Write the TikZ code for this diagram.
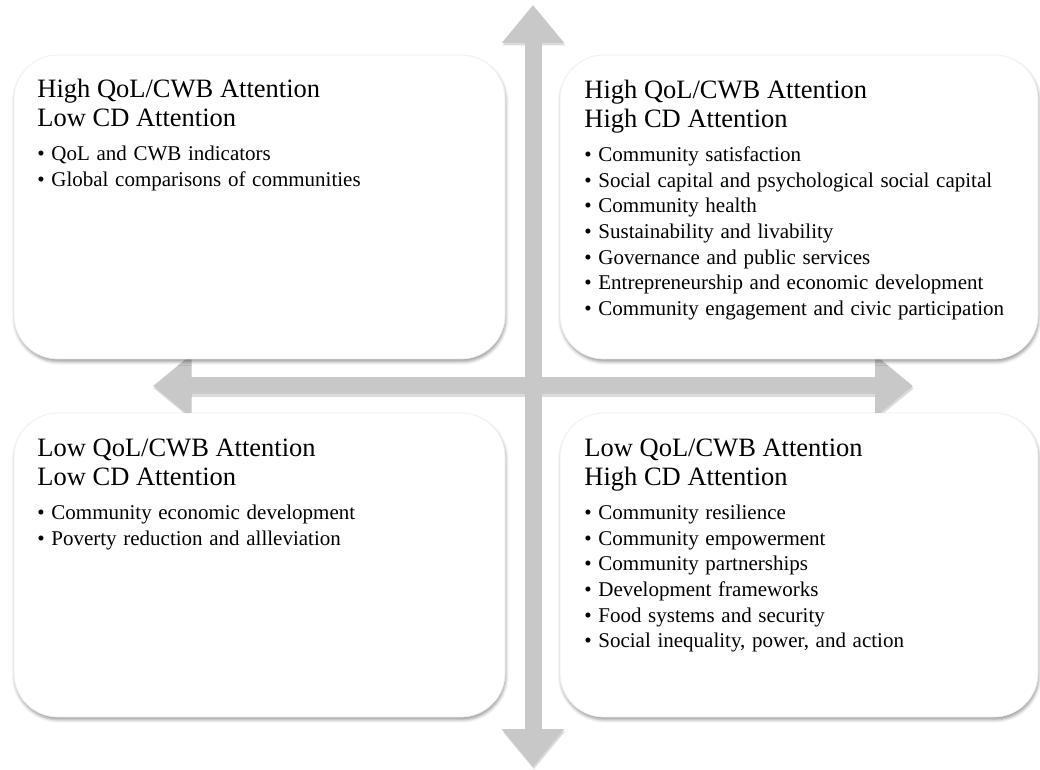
\documentclass[tikz,border=0pt]{standalone}
\usepackage{fontspec}
\setmainfont{Liberation Serif}
\usetikzlibrary{arrows.meta,positioning,shadows,shadows.blur}

\definecolor{axisgray}{RGB}{200,200,200}
\newcommand{\headfont}{\fontsize{13.25pt}{14.25pt}\selectfont}
\newcommand{\itemfont}{\fontsize{10.5pt}{12.85pt}\selectfont}

\tikzset{
	quad/.style={draw=black!6, fill=white, rounded corners=22pt, minimum width=245.5pt,
		minimum height=152pt, inner sep=0pt, outer sep=0pt,
		blur shadow={shadow xshift=0.4pt, shadow yshift=-1.4pt, shadow blur radius=1.6pt, shadow opacity=40}},
	quadtext/.style={anchor=base west, text width=230pt, align=left, inner sep=0pt},
	axis/.style={line width=8.5pt, draw=axisgray,
		{Triangle[width=30pt,length=19pt]}-{Triangle[width=30pt,length=19pt]}},
	axisshadow/.style={axis, draw=black!40, opacity=0.35, transform canvas={xshift=0.4pt,yshift=-1.2pt}}
}

\begin{document}
\begin{tikzpicture}[x=0.5pt, y=-0.5pt]
	\useasboundingbox (0,0) rectangle (1040,770);

	% axes
	\coordinate (top)    at (533,5);
	\coordinate (bottom) at (533,767);
	\coordinate (left)   at (153,386);
	\coordinate (right)  at (913,386);
	\draw[axisshadow] (top) -- (bottom);
	\draw[axisshadow] (left) -- (right);
	\draw[axis] (top) -- (bottom);
	\draw[axis] (left) -- (right);

	% quadrants
	\node[quad]                        (tl) at (259.5,207)      {};
	\node[quad, minimum width=239pt]   (tr) [right=27.5pt of tl] {};
	\node[quad]                        (bl) [below=27pt of tl]   {};
	\node[quad, minimum width=239pt]   (br) [below=27pt of tr]   {};

	\node[quadtext] (tltext) at ([shift={(23,43)}]tl.north west)
		{{\headfont High QoL/CWB Attention\\Low CD Attention\par}\vspace{4.15pt}
		{\itemfont\textbullet{} QoL and CWB indicators\\
		\textbullet{} Global comparisons of communities\par}};
	\node[quadtext] (trtext) at ([shift={(24,44)}]tr.north west)
		{{\headfont High QoL/CWB Attention\\High CD Attention\par}\vspace{4.15pt}
		{\itemfont\textbullet{} Community satisfaction\\
		\textbullet{} Social capital and psychological social capital\\
		\textbullet{} Community health\\
		\textbullet{} Sustainability and livability\\
		\textbullet{} Governance and public services\\
		\textbullet{} Entrepreneurship and economic development\\
		\textbullet{} Community engagement and civic participation\par}};
	\node[quadtext] (bltext) at ([shift={(23,44)}]bl.north west)
		{{\headfont Low QoL/CWB Attention\\Low CD Attention\par}\vspace{4.15pt}
		{\itemfont\textbullet{} Community economic development\\
		\textbullet{} Poverty reduction and allleviation\par}};
	\node[quadtext] (brtext) at ([shift={(24,44)}]br.north west)
		{{\headfont Low QoL/CWB Attention\\High CD Attention\par}\vspace{4.15pt}
		{\itemfont\textbullet{} Community resilience\\
		\textbullet{} Community empowerment\\
		\textbullet{} Community partnerships\\
		\textbullet{} Development frameworks\\
		\textbullet{} Food systems and security\\
		\textbullet{} Social inequality, power, and action\par}};
\end{tikzpicture}
\end{document}
